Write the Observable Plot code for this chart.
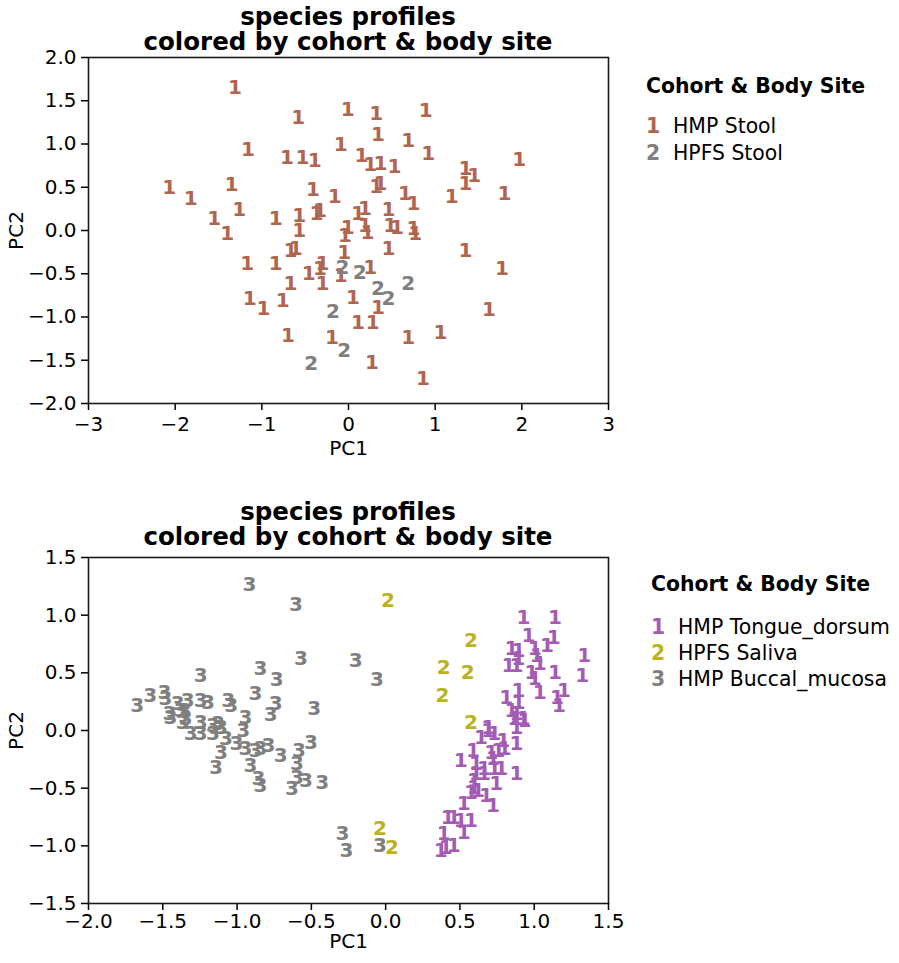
<!DOCTYPE html>
<html>
<head>
<meta charset="utf-8">
<script src="https://cdn.jsdelivr.net/npm/d3@7"></script>
<script src="https://cdn.jsdelivr.net/npm/@observablehq/plot@0.6"></script>
<style>
  html, body { margin: 0; padding: 0; background: #fff; }
  #fig { position: relative; width: 899px; height: 963px; font-family: "DejaVu Sans", sans-serif; }
  .panel { position: absolute; left: 0; }
  .title { position: absolute; width: 600px; text-align: center; font-weight: bold; font-size: 24.5px; line-height: 24.5px; color: #000; }
  .legend { position: absolute; font-size: 20.4px; color: #000; }
  .legend .lt { font-weight: bold; height: 26px; line-height: 26px; white-space: nowrap; }
  .legend .row { white-space: nowrap; }
  .legend .sym { display: inline-block; width: 14px; text-align: center; font-weight: bold; margin-right: 13px; }
</style>
</head>
<body>
<div id="fig"></div>
<script>
// ---------- Top panel: stool ----------
const stoolGroups = ["HMP Stool", "HPFS Stool"];
const stoolSymbols = ["1", "2"];
const stoolColors = ["#b0654e", "#7f7f7f"];

const hmpStoolPC1 = [-1.31,-0.58,-0.01,0.32,0.89,0.34,0.69,-1.16,-0.71,-0.53,-0.39,-0.09,0.15,0.25,0.37,0.53,0.92,1.97,1.35,1.45,1.35,-2.07,-1.82,-1.35,-0.41,-0.16,0.32,0.37,0.65,0.75,1.19,1.80,-1.26,-1.55,-1.40,-0.84,-0.57,-0.37,-0.33,0.11,0.19,0.46,-0.01,0.19,0.48,0.56,0.75,-0.57,-0.04,0.22,0.77,-0.61,-0.67,-0.05,0.46,1.35,-1.17,-0.84,-0.30,-0.33,-0.46,-0.09,0.25,1.77,-0.67,-0.30,-1.14,-0.98,-0.76,0.05,0.34,1.62,0.11,0.28,-0.70,-0.19,0.69,1.06,0.27,0.86];
const hmpStoolPC2 = [1.65,1.31,1.40,1.35,1.39,1.11,1.04,0.94,0.84,0.84,0.81,0.99,0.87,0.76,0.77,0.74,0.89,0.82,0.72,0.64,0.54,0.50,0.37,0.53,0.47,0.39,0.51,0.54,0.43,0.31,0.39,0.43,0.24,0.14,-0.03,0.14,0.17,0.20,0.23,0.20,0.25,0.24,0.03,0.06,0.06,0.03,0.02,0.00,-0.06,-0.02,-0.03,-0.21,-0.23,-0.25,-0.21,-0.23,-0.38,-0.38,-0.38,-0.44,-0.50,-0.52,-0.43,-0.44,-0.61,-0.61,-0.79,-0.90,-0.81,-0.77,-0.89,-0.92,-1.06,-1.06,-1.21,-1.24,-1.24,-1.18,-1.53,-1.71];
const hpfsStoolPC1 = [-0.07,0.13,0.34,0.46,0.69,-0.18,-0.05,-0.43];
const hpfsStoolPC2 = [-0.43,-0.49,-0.67,-0.79,-0.61,-0.94,-1.39,-1.54];

const topXTicks = [-3,-2,-1,0,1,2,3];
const topYTicks = [-2.0,-1.5,-1.0,-0.5,0.0,0.5,1.0,1.5,2.0];

// ---------- Bottom panel: oral ----------
const oralGroups = ["HMP Tongue_dorsum", "HPFS Saliva", "HMP Buccal_mucosa"];
const oralSymbols = ["1", "2", "3"];
const oralColors = ["#a35bb3", "#bcb21e", "#7f7f7f"];

const tongueDorsumPC1 = [0.928,1.139,0.962,1.132,1.085,0.846,0.894,1.003,1.016,1.337,0.826,0.880,0.894,1.037,1.139,0.982,1.003,1.323,0.812,0.894,0.894,1.037,1.153,1.200,1.166,0.846,0.880,0.928,0.867,0.690,0.880,0.935,0.642,0.690,0.731,0.792,0.799,0.880,0.587,0.710,0.723,0.758,0.506,0.608,0.662,0.731,0.778,0.880,0.594,0.608,0.662,0.574,0.594,0.621,0.676,0.723,0.744,0.526,0.417,0.458,0.506,0.574,0.526,0.390,0.370,0.404,0.458];
const tongueDorsumPC2 = [0.980,0.980,0.824,0.807,0.737,0.711,0.694,0.711,0.650,0.650,0.564,0.564,0.624,0.581,0.503,0.503,0.451,0.477,0.286,0.347,0.243,0.330,0.286,0.347,0.217,0.173,0.147,0.104,0.104,0.026,0.026,0.087,-0.061,0.000,-0.026,-0.087,-0.156,-0.113,-0.173,-0.191,-0.243,-0.173,-0.260,-0.286,-0.330,-0.330,-0.330,-0.373,-0.434,-0.373,-0.373,-0.538,-0.494,-0.520,-0.564,-0.650,-0.460,-0.633,-0.755,-0.755,-0.781,-0.781,-0.885,-0.893,-1.041,-1.015,-0.997];
const salivaPC1 = [0.016,0.574,0.390,0.553,0.383,0.574,-0.039,0.043];
const salivaPC2 = [1.127,0.781,0.546,0.503,0.304,0.069,-0.850,-1.015];
const buccalPC1 = [-0.917,-0.604,-0.570,-1.244,-0.842,-0.733,-0.202,-0.059,-0.876,-0.481,-0.740,-0.774,-1.673,-1.584,-1.489,-1.482,-1.400,-1.332,-1.244,-1.196,-1.060,-1.039,-0.944,-1.455,-1.353,-1.448,-1.380,-1.346,-1.366,-1.244,-1.312,-1.244,-1.162,-1.128,-1.108,-1.162,-0.958,-1.074,-1.005,-0.944,-0.876,-0.842,-0.788,-0.706,-0.583,-0.502,-1.108,-1.142,-0.910,-0.856,-0.842,-0.597,-0.597,-0.536,-0.631,-0.427,-0.291,-0.263,-0.039];
const buccalPC2 = [1.266,1.093,0.624,0.477,0.538,0.442,0.607,0.442,0.321,0.191,0.234,0.139,0.217,0.304,0.330,0.278,0.234,0.260,0.260,0.243,0.260,0.217,0.113,0.147,0.173,0.113,0.173,0.104,0.069,0.069,-0.026,-0.026,0.043,0.061,0.026,-0.026,0.000,-0.069,-0.113,-0.156,-0.173,-0.156,-0.130,-0.217,-0.173,-0.104,-0.191,-0.321,-0.304,-0.416,-0.477,-0.286,-0.408,-0.434,-0.503,-0.451,-0.893,-1.041,-0.997];

const botXTicks = [-2.0,-1.5,-1.0,-0.5,0.0,0.5,1.0,1.5];
const botYTicks = [-1.5,-1.0,-0.5,0.0,0.5,1.0,1.5];

// ---------- helpers ----------
function rows(pc1, pc2, group) {
  return pc1.map((x, i) => ({PC1: x, PC2: pc2[i], group}));
}
const fmt1 = d3.format(".1f");
const fmt0 = d3.format("d");

function scatter({data, groups, symbols, colors, xDomain, yDomain, xTicks, yTicks, xFmt, yFmt,
                  height, mt, mb, xPad, xLabelOffset}) {
  const symOf = new Map(groups.map((g, i) => [g, symbols[i]]));
  return Plot.plot({
    width: 899,
    height,
    marginLeft: 88,
    marginRight: 291,
    marginTop: mt,
    marginBottom: mb,
    style: {fontFamily: "DejaVu Sans, sans-serif", fontSize: "20px", color: "#000", background: "#fff"},
    x: {domain: xDomain},
    y: {domain: yDomain},
    color: {domain: groups, range: colors},
    marks: [
      Plot.axisX({ticks: xTicks, tickFormat: xFmt, tickSize: 7, tickPadding: xPad, fontSize: 20,
                  strokeWidth: 1.5,
                  label: "PC1", labelAnchor: "center", labelOffset: xLabelOffset, labelArrow: "none"}),
      Plot.axisY({ticks: yTicks, tickFormat: yFmt, tickSize: 7, tickPadding: 5, fontSize: 20,
                  strokeWidth: 1.5,
                  label: "PC2", labelAnchor: "center", labelOffset: 80, labelArrow: "none"}),
      Plot.text(data, {x: "PC1", y: "PC2", text: d => symOf.get(d.group), fill: "group",
                       fontSize: 20, fontWeight: "bold"}),
      Plot.frame({stroke: "#1a1a1a", strokeWidth: 1.6})
    ]
  });
}

const fig = document.getElementById("fig");

// top panel
const stoolData = [
  ...rows(hmpStoolPC1, hmpStoolPC2, stoolGroups[0]),
  ...rows(hpfsStoolPC1, hpfsStoolPC2, stoolGroups[1])
];
const stoolPlot = scatter({data: stoolData, groups: stoolGroups, symbols: stoolSymbols, colors: stoolColors,
  xDomain: [-3, 3], yDomain: [-2, 2], xTicks: topXTicks, yTicks: topYTicks, xFmt: fmt0, yFmt: fmt1,
  height: 480, mt: 57, mb: 77, xPad: 6, xLabelOffset: 51});
stoolPlot.classList.add("panel");
stoolPlot.style.top = "0px";
fig.appendChild(stoolPlot);

// bottom panel
const oralData = [
  ...rows(tongueDorsumPC1, tongueDorsumPC2, oralGroups[0]),
  ...rows(salivaPC1, salivaPC2, oralGroups[1]),
  ...rows(buccalPC1, buccalPC2, oralGroups[2])
];
const oralPlot = scatter({data: oralData, groups: oralGroups, symbols: oralSymbols, colors: oralColors,
  xDomain: [-2, 1.5], yDomain: [-1.5, 1.5], xTicks: botXTicks, yTicks: botYTicks, xFmt: fmt1, yFmt: fmt1,
  height: 483, mt: 77, mb: 60, xPad: 3, xLabelOffset: 44});
oralPlot.classList.add("panel");
oralPlot.style.top = "480px";
fig.appendChild(oralPlot);

// titles
const titleLines = ["species profiles", "colored by cohort & body site"];
function addTitle(topPx) {
  const t = document.createElement("div");
  t.className = "title";
  t.style.left = (348 - 300) + "px";
  t.style.top = topPx + "px";
  t.innerHTML = titleLines.join("<br>");
  fig.appendChild(t);
}
addTitle(5);
addTitle(500);

// legends
const legendTitle = "Cohort & Body Site";
function addLegend(left, topPx, gap, rowH, groups, symbols, colors) {
  const L = document.createElement("div");
  L.className = "legend";
  L.style.left = left + "px";
  L.style.top = topPx + "px";
  const h = document.createElement("div");
  h.className = "lt";
  h.textContent = legendTitle;
  h.style.marginBottom = gap + "px";
  L.appendChild(h);
  groups.forEach((g, i) => {
    const r = document.createElement("div");
    r.className = "row";
    r.style.height = rowH + "px";
    r.style.lineHeight = rowH + "px";
    const s = document.createElement("span");
    s.className = "sym";
    s.style.color = colors[i];
    s.textContent = symbols[i];
    r.appendChild(s);
    r.appendChild(document.createTextNode(g));
    L.appendChild(r);
  });
  fig.appendChild(L);
}
addLegend(646, 73, 14, 27, stoolGroups, stoolSymbols, stoolColors);
addLegend(651, 571, 17, 26, oralGroups, oralSymbols, oralColors);
</script>
</body>
</html>
